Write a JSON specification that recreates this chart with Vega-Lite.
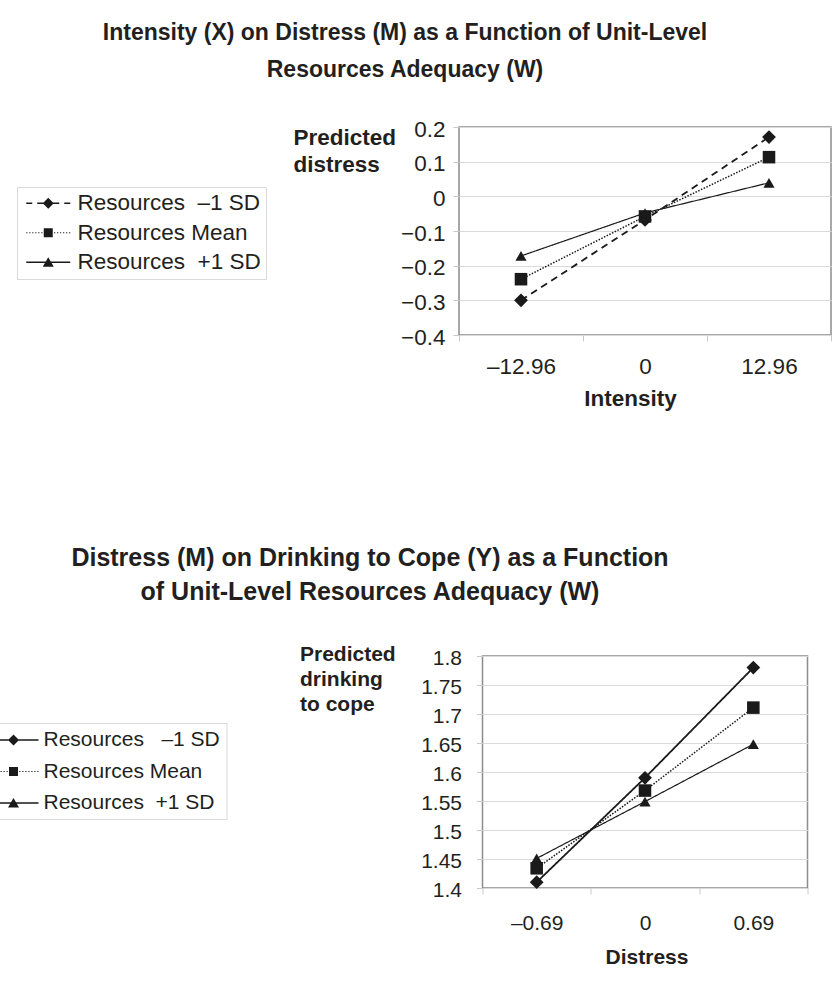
{
  "$schema": "https://vega.github.io/schema/vega-lite/v6.json",
  "autosize": {"type": "none"},
  "padding": {"left": 459, "top": 127, "right": 374, "bottom": 860},
  "background": "white",
  "bounds": "flush",
  "center": true,
  "spacing": 321,
  "resolve": {"scale": {"strokeDash": "independent", "strokeWidth": "independent", "size": "independent", "shape": "independent"}, "legend": {"shape": "independent"}},
  "config": {
    "font": "Liberation Sans",
    "view": {"stroke": "#8c8c8c", "strokeWidth": 1.5},
    "axis": {"labelColor": "#231f20", "titleColor": "#231f20", "labelFont": "Liberation Sans", "titleFont": "Liberation Sans", "gridColor": "#d9d9d9", "tickColor": "#c8c8c8", "domain": false},
    "title": {"color": "#231f20", "font": "Liberation Sans", "fontWeight": "bold"},
    "legend": {"labelFont": "Liberation Sans", "labelColor": "#231f20"}
  },
  "datasets": {
    "top": [
      {"x": "–12.96", "y": -0.300, "series": "Resources\u00a0 –1 SD"},
      {"x": "0", "y": -0.068, "series": "Resources\u00a0 –1 SD"},
      {"x": "12.96", "y": 0.171, "series": "Resources\u00a0 –1 SD"},
      {"x": "–12.96", "y": -0.239, "series": "Resources Mean"},
      {"x": "0", "y": -0.058, "series": "Resources Mean"},
      {"x": "12.96", "y": 0.113, "series": "Resources Mean"},
      {"x": "–12.96", "y": -0.172, "series": "Resources\u00a0 +1 SD"},
      {"x": "0", "y": -0.048, "series": "Resources\u00a0 +1 SD"},
      {"x": "12.96", "y": 0.039, "series": "Resources\u00a0 +1 SD"}
    ],
    "bottom": [
      {"x": "–0.69", "y": 1.410, "series": "Resources\u00a0\u00a0 –1 SD"},
      {"x": "0", "y": 1.590, "series": "Resources\u00a0\u00a0 –1 SD"},
      {"x": "0.69", "y": 1.780, "series": "Resources\u00a0\u00a0 –1 SD"},
      {"x": "–0.69", "y": 1.434, "series": "Resources Mean"},
      {"x": "0", "y": 1.568, "series": "Resources Mean"},
      {"x": "0.69", "y": 1.711, "series": "Resources Mean"},
      {"x": "–0.69", "y": 1.451, "series": "Resources\u00a0 +1 SD"},
      {"x": "0", "y": 1.549, "series": "Resources\u00a0 +1 SD"},
      {"x": "0.69", "y": 1.648, "series": "Resources\u00a0 +1 SD"}
    ]
  },
  "vconcat": [
    {
      "width": 372,
      "height": 208,
      "data": {"name": "top"},
      "title": {"text": ["Intensity (X) on Distress (M) as a Function of Unit-Level", "Resources Adequacy (W)"], "fontSize": 23, "lineHeight": 36.6, "anchor": "middle", "frame": "group", "dx": -240, "offset": 13, "baseline": "bottom"},
      "resolve": {"scale": {"shape": "independent"}, "legend": {"shape": "independent"}},
      "encoding": {
        "x": {"field": "x", "type": "nominal", "scale": {"type": "band", "domain": ["–12.96", "0", "12.96"], "paddingInner": 0, "paddingOuter": 0},
          "axis": {"title": "Intensity", "titleFontSize": 22.5, "titleFontWeight": "bold", "titleX": 171, "titleY": 63, "titleBaseline": "middle", "labelFontSize": 22.5, "labelAngle": 0, "labelPadding": 14, "tickBand": "extent", "tickSize": 6, "grid": false}},
        "y": {"field": "y", "type": "quantitative", "scale": {"domain": [-0.4, 0.2], "nice": false, "zero": false},
          "axis": {"values": [-0.4, -0.3, -0.2, -0.1, 0, 0.1, 0.2], "format": "~g", "grid": true, "tickSize": 6, "labelFontSize": 22.5, "labelPadding": 8, "labelOffset": 2,
            "title": ["Predicted", "distress"], "titleFontSize": 22.5, "titleFontWeight": "bold", "titleAngle": 0, "titleAlign": "left", "titleBaseline": "top", "titleX": -166, "titleY": -1, "titleLineHeight": 27}}
      },
      "layer": [
        {
          "mark": {"type": "line", "color": "#1a1a1a"},
          "encoding": {
            "strokeDash": {"field": "series", "type": "nominal", "scale": {"domain": ["Resources\u00a0 –1 SD", "Resources Mean", "Resources\u00a0 +1 SD"], "range": [[7, 5], [1.5, 1.5], [1, 0]]}, "legend": null},
            "strokeWidth": {"field": "series", "type": "nominal", "scale": {"domain": ["Resources\u00a0 –1 SD", "Resources Mean", "Resources\u00a0 +1 SD"], "range": [1.8, 1.2, 2]}, "legend": null}
          }
        },
        {
          "mark": {"type": "point", "filled": true, "color": "#1a1a1a", "opacity": 1},
          "encoding": {
            "shape": {"field": "series", "type": "nominal", "scale": {"domain": ["Resources\u00a0 –1 SD", "Resources Mean", "Resources\u00a0 +1 SD"], "range": ["diamond", "square", "triangle-up"]}, "legend": null},
            "size": {"field": "series", "type": "ordinal", "scale": {"domain": ["Resources\u00a0 –1 SD", "Resources Mean", "Resources\u00a0 +1 SD"], "range": [190, 125, 210]}, "legend": null}
          }
        },
        {
          "mark": {"type": "point", "filled": true, "color": "#1a1a1a", "opacity": 1, "size": 0},
          "encoding": {
            "shape": {"field": "series", "type": "nominal",
              "scale": {"domain": ["Resources\u00a0 –1 SD", "Resources Mean", "Resources\u00a0 +1 SD"], "range": [
                "M-2.2,-0.075H-1.6V0.075H-2.2ZM-1.1,-0.075H-0.5V0.075H-1.1ZM0.5,-0.075H1.1V0.075H0.5ZM1.6,-0.075H2.2V0.075H1.6ZM0,-0.55L0.55,0L0,0.55L-0.55,0Z",
                "M-2.2,-0.06H-2.08V0.06H-2.2ZM-1.9,-0.06H-1.78V0.06H-1.9ZM-1.6,-0.06H-1.48V0.06H-1.6ZM-1.3,-0.06H-1.18V0.06H-1.3ZM-1,-0.06H-0.88V0.06H-1ZM-0.7,-0.06H-0.58V0.06H-0.7ZM0.58,-0.06H0.7V0.06H0.58ZM0.88,-0.06H1V0.06H0.88ZM1.18,-0.06H1.3V0.06H1.18ZM1.48,-0.06H1.6V0.06H1.48ZM1.78,-0.06H1.9V0.06H1.78ZM2.08,-0.06H2.2V0.06H2.08ZM-0.45,-0.45H0.45V0.45H-0.45Z",
                "M-2.2,-0.075H2.2V0.075H-2.2ZM0,-0.5L0.55,0.45L-0.55,0.45Z"]},
              "legend": {"title": null, "orient": "none", "legendX": -442, "legendY": 60, "direction": "vertical", "padding": 5, "strokeColor": "#d9d9d9",
                "labelFontSize": 22.5, "labelLimit": 400, "labelOffset": 18, "symbolSize": 400, "symbolOffset": 15, "symbolStrokeWidth": 1.5, "symbolFillColor": "#1a1a1a", "symbolOpacity": 1, "rowPadding": 6.5}
            }
          }
        }
      ]
    },
    {
      "width": 325,
      "height": 232,
      "data": {"name": "bottom"},
      "title": {"text": ["Distress (M) on Drinking to Cope (Y) as a Function", "of Unit-Level Resources Adequacy (W)"], "fontSize": 25, "lineHeight": 34, "anchor": "middle", "frame": "group", "dx": -275, "offset": 13, "baseline": "bottom"},
      "resolve": {"scale": {"shape": "independent"}, "legend": {"shape": "independent"}},
      "encoding": {
        "x": {"field": "x", "type": "nominal", "scale": {"type": "band", "domain": ["–0.69", "0", "0.69"], "paddingInner": 0, "paddingOuter": 0},
          "axis": {"title": "Distress", "titleFontSize": 21, "titleFontWeight": "bold", "titleX": 164, "titleY": 69, "titleBaseline": "middle", "labelFontSize": 21, "labelAngle": 0, "labelPadding": 18, "tickBand": "extent", "tickSize": 6, "grid": false}},
        "y": {"field": "y", "type": "quantitative", "scale": {"domain": [1.4, 1.8], "nice": false, "zero": false},
          "axis": {"values": [1.4, 1.45, 1.5, 1.55, 1.6, 1.65, 1.7, 1.75, 1.8], "format": "~g", "grid": true, "tickSize": 6, "labelFontSize": 21, "labelPadding": 15, "labelOffset": 2,
            "title": ["Predicted", "drinking", "to cope"], "titleFontSize": 21, "titleFontWeight": "bold", "titleAngle": 0, "titleAlign": "left", "titleBaseline": "top", "titleX": -183, "titleY": -13, "titleLineHeight": 25}}
      },
      "layer": [
        {
          "mark": {"type": "line", "color": "#1a1a1a"},
          "encoding": {
            "strokeDash": {"field": "series", "type": "nominal", "scale": {"domain": ["Resources\u00a0\u00a0 –1 SD", "Resources Mean", "Resources\u00a0 +1 SD"], "range": [[1, 0], [1.5, 1.5], [1, 0]]}, "legend": null},
            "strokeWidth": {"field": "series", "type": "nominal", "scale": {"domain": ["Resources\u00a0\u00a0 –1 SD", "Resources Mean", "Resources\u00a0 +1 SD"], "range": [1.8, 1.2, 2]}, "legend": null}
          }
        },
        {
          "mark": {"type": "point", "filled": true, "color": "#1a1a1a", "opacity": 1},
          "encoding": {
            "shape": {"field": "series", "type": "nominal", "scale": {"domain": ["Resources\u00a0\u00a0 –1 SD", "Resources Mean", "Resources\u00a0 +1 SD"], "range": ["diamond", "square", "triangle-up"]}, "legend": null},
            "size": {"field": "series", "type": "ordinal", "scale": {"domain": ["Resources\u00a0\u00a0 –1 SD", "Resources Mean", "Resources\u00a0 +1 SD"], "range": [190, 125, 210]}, "legend": null}
          }
        },
        {
          "mark": {"type": "point", "filled": true, "color": "#1a1a1a", "opacity": 1, "size": 0},
          "encoding": {
            "shape": {"field": "series", "type": "nominal",
              "scale": {"domain": ["Resources\u00a0\u00a0 –1 SD", "Resources Mean", "Resources\u00a0 +1 SD"], "range": [
                "M-2.5,-0.075H2.5V0.075H-2.5ZM0,-0.55L0.55,0L0,0.55L-0.55,0Z",
                "M-2.5,-0.06H-2.38V0.06H-2.5ZM-2.2,-0.06H-2.08V0.06H-2.2ZM-1.9,-0.06H-1.78V0.06H-1.9ZM-1.6,-0.06H-1.48V0.06H-1.6ZM-1.3,-0.06H-1.18V0.06H-1.3ZM-1,-0.06H-0.88V0.06H-1ZM-0.7,-0.06H-0.58V0.06H-0.7ZM0.58,-0.06H0.7V0.06H0.58ZM0.88,-0.06H1V0.06H0.88ZM1.18,-0.06H1.3V0.06H1.18ZM1.48,-0.06H1.6V0.06H1.48ZM1.78,-0.06H1.9V0.06H1.78ZM2.08,-0.06H2.2V0.06H2.08ZM2.38,-0.06H2.5V0.06H2.38ZM-0.45,-0.45H0.45V0.45H-0.45Z",
                "M-2.5,-0.075H2.5V0.075H-2.5ZM0,-0.5L0.55,0.45L-0.55,0.45Z"]},
              "legend": {"title": null, "orient": "none", "legendX": -500, "legendY": 67, "direction": "vertical", "padding": 6, "strokeColor": "#d9d9d9",
                "labelFontSize": 21, "labelLimit": 400, "labelOffset": 19, "symbolSize": 400, "symbolOffset": 14, "symbolStrokeWidth": 1.5, "symbolFillColor": "#1a1a1a", "symbolOpacity": 1, "rowPadding": 10.5}
            }
          }
        }
      ]
    }
  ]
}
